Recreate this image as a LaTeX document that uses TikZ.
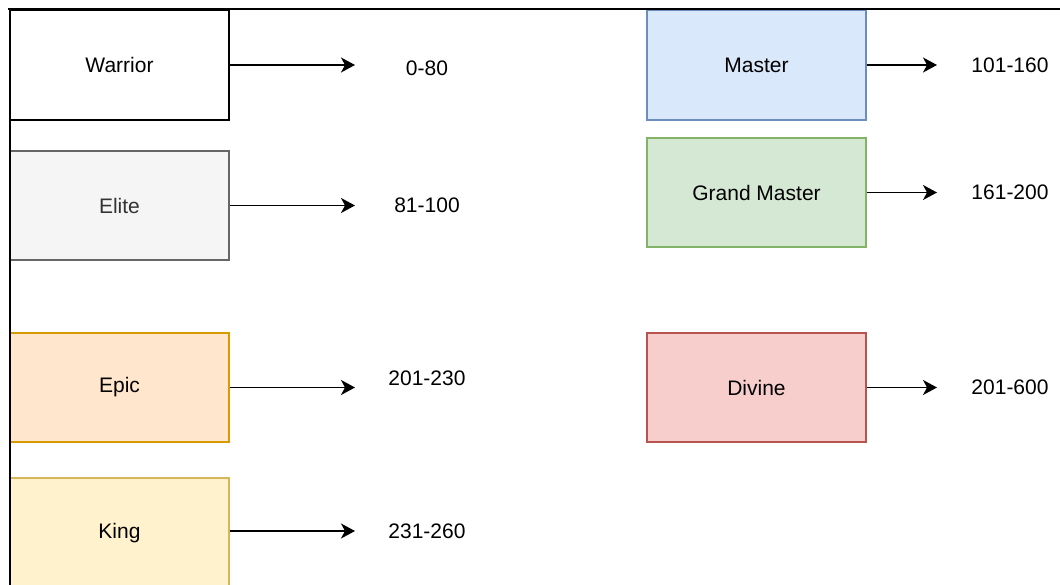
\documentclass[tikz,border=0pt]{standalone}
\usepackage{fontspec}
\setmainfont{Liberation Sans}
\usetikzlibrary{arrows.meta}

\definecolor{eliteFill}{HTML}{F5F5F5}
\definecolor{eliteLine}{HTML}{666666}
\definecolor{eliteText}{HTML}{333333}
\definecolor{epicFill}{HTML}{FFE6CC}
\definecolor{epicLine}{HTML}{D79B00}
\definecolor{kingFill}{HTML}{FFF2CC}
\definecolor{kingLine}{HTML}{D6B656}
\definecolor{masterFill}{HTML}{DAE8FC}
\definecolor{masterLine}{HTML}{6C8EBF}
\definecolor{gmFill}{HTML}{D5E8D4}
\definecolor{gmLine}{HTML}{82B366}
\definecolor{divineFill}{HTML}{F8CECC}
\definecolor{divineLine}{HTML}{B85450}

\tikzset{
  rankbox/.style={draw, rectangle, line width=1.2pt, minimum width=219pt,
    minimum height=110pt, inner sep=0pt, font=\fontsize{21pt}{24pt}\selectfont},
  rangelabel/.style={inner sep=0pt, font=\fontsize{21pt}{24pt}\selectfont},
  rankarrow/.style={line width=1.5pt, -{Stealth[length=14pt, width=15pt, inset=4pt]}},
  frameline/.style={line width=2pt, black}
}

\begin{document}
\begin{tikzpicture}[x=1pt, y=-1pt]
  \useasboundingbox (0,0) rectangle (1060,585);
  \fill[white] (0,0) rectangle (1060,585);

  % rank boxes, left column
  \node[rankbox, fill=white, draw=black] (warrior) at (119.5,65) {Warrior};
  \node[rankbox, fill=eliteFill, draw=eliteLine, text=eliteText, minimum height=109pt] (elite) at (119.5,205.5) {Elite};
  \node[rankbox, fill=epicFill, draw=epicLine, minimum height=109pt] (epic) at (119.5,387.5) {Epic};
  \node[rankbox, fill=kingFill, draw=kingLine] (king) at (119.5,533) {King};

  % rank boxes, right column
  \node[rankbox, fill=masterFill, draw=masterLine] (master) at (756.5,65) {Master};
  \node[rankbox, fill=gmFill, draw=gmLine, minimum height=109pt] (grand) at (756.5,192.5) {Grand Master};
  \node[rankbox, fill=divineFill, draw=divineLine, minimum height=109pt] (divine) at (756.5,387.5) {Divine};

  % arrow ends
  \coordinate (warriorEnd) at (355,65);
  \coordinate (eliteEnd) at (355,205.5);
  \coordinate (epicEnd) at (355,387.5);
  \coordinate (kingEnd) at (355,531);
  \coordinate (masterEnd) at (937,65);
  \coordinate (grandEnd) at (937,192.5);
  \coordinate (divineEnd) at (937,387.5);

  \draw[rankarrow] (warrior.east) -- (warriorEnd);
  \draw[rankarrow] (elite.east) -- (eliteEnd);
  \draw[rankarrow] (epic.east) -- (epicEnd);
  \draw[rankarrow] (king.east |- kingEnd) -- (kingEnd);
  \draw[rankarrow] (master.east) -- (masterEnd);
  \draw[rankarrow] (grand.east) -- (grandEnd);
  \draw[rankarrow] (divine.east) -- (divineEnd);

  % point ranges
  \node[rangelabel] (r1) at (427,68) {0-80};
  \node[rangelabel] (r2) at (427,205) {81-100};
  \node[rangelabel] (r3) at (427,378) {201-230};
  \node[rangelabel] (r4) at (427,531) {231-260};
  \node[rangelabel] (r5) at (1010,65) {101-160};
  \node[rangelabel] (r6) at (1010,192) {161-200};
  \node[rangelabel] (r7) at (1010,387) {201-600};

  % outer frame edges
  \draw[frameline] (8,9.5) -- (1060,9.5);
  \draw[frameline] (9.5,9) -- (9.5,585);
\end{tikzpicture}
\end{document}
